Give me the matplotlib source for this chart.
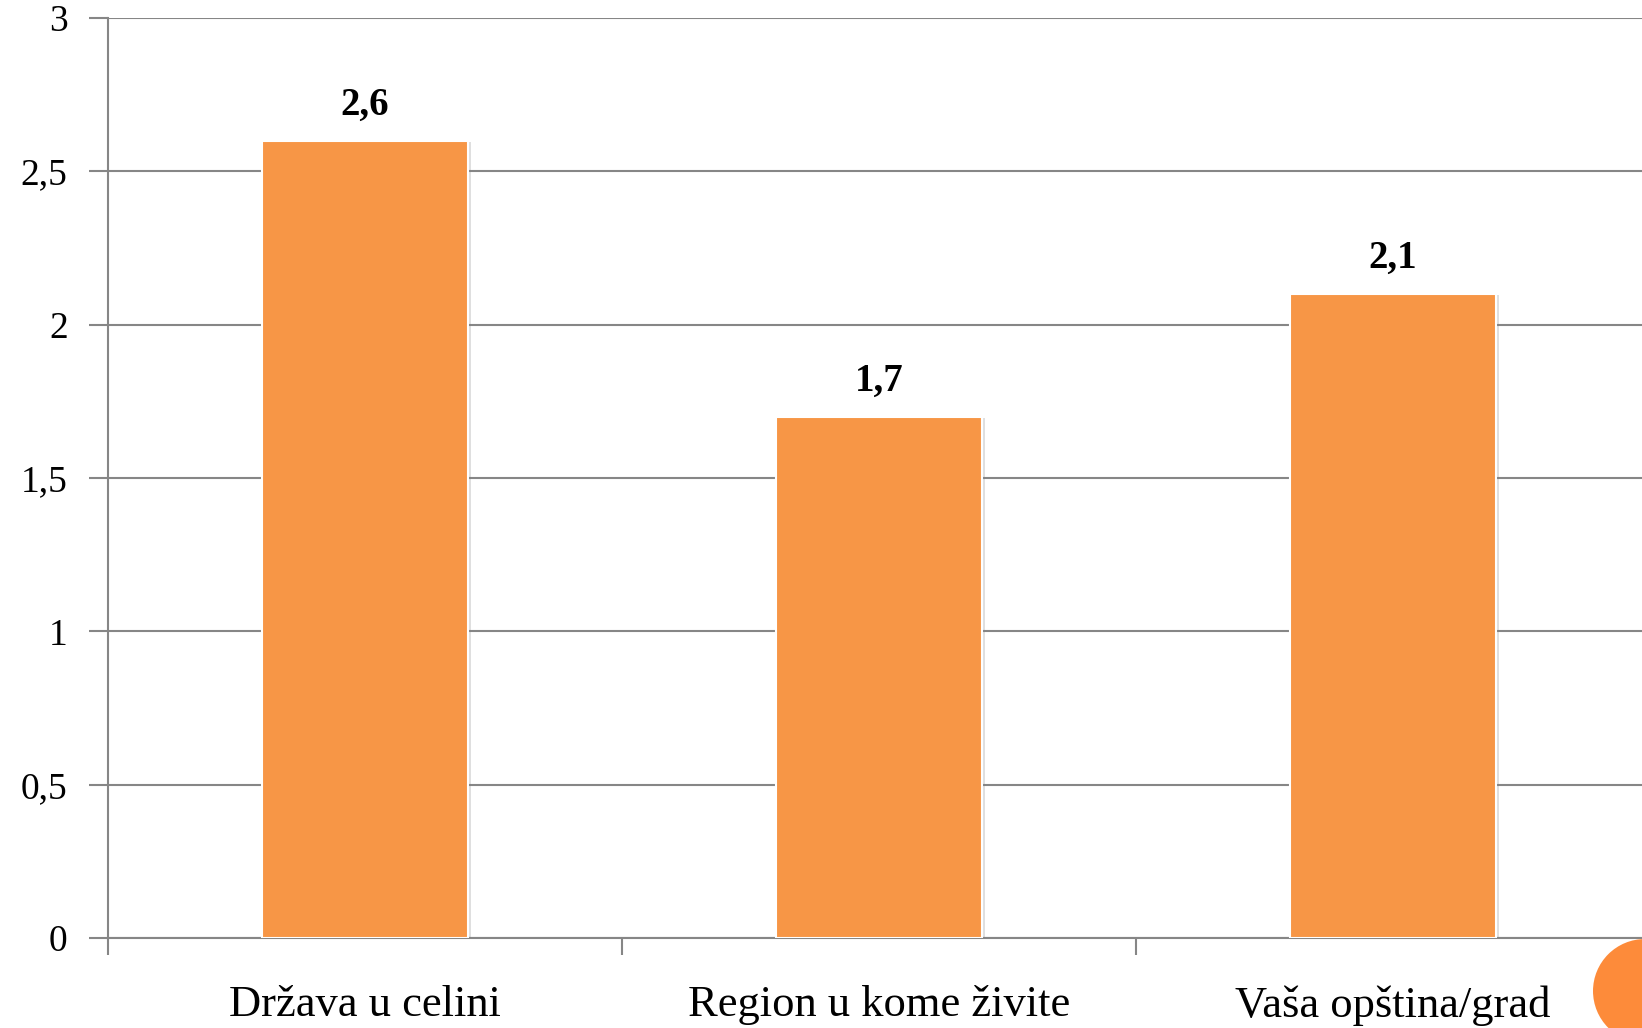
import matplotlib
matplotlib.use("Agg")
import matplotlib.pyplot as plt
import matplotlib.patheffects as pe
from matplotlib.patches import Circle
import numpy as np

# data
categories = ['Država u celini', 'Region u kome živite', 'Vaša opština/grad']
values = [2.6, 1.7, 2.1]
yticks = [0, 0.5, 1, 1.5, 2, 2.5, 3]
ytick_labels = ['0', '0,5', '1', '1,5', '2', '2,5', '3']
value_labels = ['2,6', '1,7', '2,1']

plt.rcParams['font.family'] = ['Liberation Serif', 'DejaVu Serif']

W, H = 1642, 1028
fig = plt.figure(figsize=(W / 100, H / 100), dpi=100)
# axes box in pixels: left 108, right 1650, top 18, bottom 938
ax = fig.add_axes([108 / W, (H - 938) / H, (1650 - 108) / W, (938 - 18) / H])

x = np.arange(len(categories))
bars = ax.bar(x, values, width=0.4, color='#F79646', edgecolor='white',
              linewidth=1.5, zorder=3)
for b in bars:
    b.set_path_effects([pe.SimplePatchShadow(offset=(2, -1), alpha=0.25,
                                             shadow_rgbFace='#808080'),
                        pe.Normal()])

for xi, v, lab in zip(x, values, value_labels):
    ax.annotate(lab, (xi, v), xytext=(0, 12), textcoords='offset points',
                ha='center', va='bottom', fontsize=28, fontweight='bold',
                color='black')

ax.set_xlim(-0.5, len(categories) - 0.5)
ax.set_ylim(0, 3)
ax.set_yticks(yticks)
ax.set_yticklabels(ytick_labels, fontsize=27)
ax.set_xticks(np.arange(len(categories) + 1) - 0.5, minor=False)
ax.set_xticklabels([])
ax.set_xticks(x, minor=True)
ax.set_xticklabels(categories, minor=True, fontsize=32)
ax.tick_params(axis='x', which='minor', length=0, pad=34)
ax.tick_params(axis='x', which='major', length=12, width=1.5, color='#868686')
ax.tick_params(axis='y', length=14, width=1.5, color='#868686', pad=15)

ax.yaxis.grid(True, color='#868686', linewidth=1.5, zorder=0)
ax.set_axisbelow(True)
for s in ['top', 'right']:
    ax.spines[s].set_visible(False)
for s in ['left', 'bottom']:
    ax.spines[s].set_color('#868686')
    ax.spines[s].set_linewidth(1.5)

# decorative circle in the bottom-right corner (inch coordinates, keeps it round)
circ = Circle((16.45, (H - 991) / 100), 0.52, transform=fig.dpi_scale_trans,
              facecolor='#FD8B3A', edgecolor='none', zorder=5)
fig.patches.append(circ)

fig.savefig('out.png', dpi=100)
